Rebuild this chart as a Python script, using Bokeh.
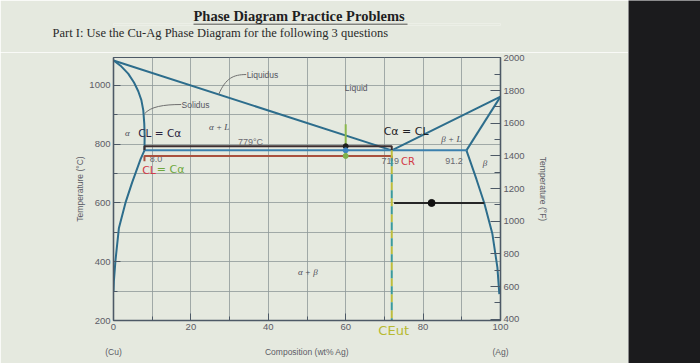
from bokeh.plotting import figure
from bokeh.models import Range1d, LinearAxis, SingleIntervalTicker, FixedTicker, Title
from bokeh.layouts import row, column
from bokeh.embed import file_html
from bokeh.resources import INLINE
from bokeh.core.properties import value

# ---------------- data (Cu-Ag phase diagram) ----------------
liquidus_x = [0, 71.9, 100]
liquidus_T = [1085, 779, 962]
alpha_solidus_x = [0, 2.0, 3.8, 5.3, 6.4, 7.2, 7.7, 7.95, 8.05, 8.0]
alpha_solidus_T = [1085, 1065, 1040, 1010, 980, 950, 915, 870, 830, 779]
alpha_solvus_x = [8.0, 7.0, 4.8, 3.1, 1.4, 0.5, 0.1, 0.0]
alpha_solvus_T = [779, 749, 669, 601, 515, 403, 335, 300]
beta_solidus_x = [91.2, 100]
beta_solidus_T = [779, 962]
beta_solvus_x = [91.2, 93.8, 95.8, 97.9, 99.2, 99.7]
beta_solvus_T = [779, 680, 600, 495, 380, 290]
eutectic_x = [8.0, 91.2]
eutectic_T = [779, 779]
eutectic_comp = 71.9

# hand-drawn annotations
upper_box_x = [8.0, 8.0, 71.9, 71.9]
upper_box_T = [779, 793, 793, 779]
lower_box_x = [8.0, 8.0, 71.9, 71.9]
lower_box_T = [742, 760, 760, 742]
alloy_comp = 60
alloy_T = [757, 868]
alloy_dot_T = [793, 779, 760]
alloy_dot_colors = ["#1e1e1e", "#3f86c0", "#7fb24a"]
ceut_T = [779, 200]
tie_x = [72.5, 95.8]
tie_T = [600, 600]
tie_dot_x = [82.2]
tie_dot_T = [600]

region_text = ["Liquid", "α + L", "α", "β + L", "β", "α + β"]
region_x = [62.7, 27.3, 3.6, 87.3, 96.0, 50.2]
region_T = [990, 858, 837, 817, 735, 366]

value_text = ["779°C", "8.0", "71.9", "91.2"]
value_x = [35.4, 11.0, 71.5, 88.0]
value_T = [807, 750, 742, 742]

comp_end_ticks = [0, 50, 100]
comp_end_labels = {0: "(Cu)", 50: "Composition (wt% Ag)", 100: "(Ag)"}
ceut_label_pos = [72.4]
ceut_label = {72.4: "CEut"}

title_text = "Phase Diagram Practice Problems"
subtitle_text = "Part I: Use the Cu-Ag Phase Diagram for the following 3 questions"
title_span = [193, 407]


def c2f(c):
    return c * 9.0 / 5.0 + 32.0


BG = "#e5e9df"
LINE = "#2d6d8c"
AX = "#4d5966"
TXT = "#5c5c66"
SANS = "Liberation Sans"
SERIF = "Liberation Serif"
HAND = "DejaVu Sans"
LEFT, RIGHT = 113, 128

# ---------------- title strip (frame is a thin band holding the underline) ----------------
tf = figure(width=628, height=52, x_range=Range1d(LEFT, 628 - RIGHT), y_range=Range1d(0, 1),
            x_axis_type=None, y_axis_type=None, toolbar_location=None,
            output_backend="svg", min_border_left=LEFT, min_border_right=RIGHT,
            min_border_top=23, min_border_bottom=27, background_fill_color=BG,
            border_fill_color=BG, outline_line_color=None,
            title=Title(text=title_text, align="left", offset=title_span[0] - LEFT, standoff=0,
                        text_font=SERIF, text_font_style="bold", text_font_size="14.5px",
                        text_color="#1f1f1f"))
tf.grid.visible = False
tf.segment(x0=[title_span[0]], y0=[0.75], x1=[title_span[1]], y1=[0.75],
           line_color="#1f1f1f", line_width=1.2)
tf.add_layout(Title(text=subtitle_text, align="left", offset=52 - LEFT, standoff=0,
                    vertical_align="top", text_font=SERIF, text_font_style="normal",
                    text_font_size="12.5px", text_color="#2a2a2a"), "below")

# ---------------- chart ----------------
p = figure(width=628, height=311, x_range=Range1d(0, 100), y_range=Range1d(200, 1095),
           toolbar_location=None, output_backend="svg",
           min_border_left=LEFT, min_border_right=RIGHT, min_border_top=5, min_border_bottom=43,
           background_fill_color=BG, border_fill_color=BG,
           outline_line_color=AX, outline_line_width=1.2)

p.extra_y_ranges = {"F": Range1d(c2f(200), c2f(1095))}


def style_axis(ax, tick_in, minor_in):
    ax.axis_line_color = AX
    ax.axis_line_width = 1.4
    ax.major_tick_line_color = AX
    ax.minor_tick_line_color = AX
    ax.major_tick_in = tick_in
    ax.major_tick_out = 0
    ax.minor_tick_in = minor_in
    ax.minor_tick_out = 0
    ax.major_label_standoff = 3
    ax.major_label_text_font = SANS
    ax.major_label_text_font_size = "9.5px"
    ax.major_label_text_color = TXT
    ax.axis_label_text_font = SANS
    ax.axis_label_text_font_size = "8.5px"
    ax.axis_label_text_font_style = "normal"
    ax.axis_label_text_color = TXT


def bare_axis(ax):
    ax.axis_line_color = None
    ax.major_tick_line_color = None
    ax.minor_tick_line_color = None
    ax.major_tick_in = 0
    ax.major_tick_out = 0
    ax.minor_tick_in = 0
    ax.minor_tick_out = 0


style_axis(p.xaxis[0], 7, 4)
style_axis(p.yaxis[0], 7, 4)
p.xaxis[0].ticker = SingleIntervalTicker(interval=20, num_minor_ticks=2)
p.yaxis[0].ticker = SingleIntervalTicker(interval=200, num_minor_ticks=2)
p.yaxis[0].axis_label = "Temperature (°C)"
p.yaxis[0].axis_label_standoff = 1

# handwritten C_Eut tucked between the composition numbers
cax = LinearAxis(ticker=FixedTicker(ticks=ceut_label_pos), major_label_overrides=ceut_label)
style_axis(cax, 0, 0)
bare_axis(cax)
cax.major_label_text_font = HAND
cax.major_label_text_font_size = "13px"
cax.major_label_text_color = "#b7b930"
cax.major_label_standoff = -10
p.add_layout(cax, "below")

# row under the composition axis: (Cu)  Composition (wt% Ag)  (Ag)
bax = LinearAxis(ticker=FixedTicker(ticks=comp_end_ticks), major_label_overrides=comp_end_labels)
style_axis(bax, 0, 0)
bare_axis(bax)
bax.major_label_text_font_size = "8.5px"
bax.major_label_standoff = 6
p.add_layout(bax, "below")

rax = LinearAxis(y_range_name="F", ticker=SingleIntervalTicker(interval=200, num_minor_ticks=2),
                 axis_label="Temperature (°F)")
style_axis(rax, 10, 6)
rax.axis_label_standoff = 10
p.add_layout(rax, "right")

p.xgrid.ticker = SingleIntervalTicker(interval=10)
p.ygrid.ticker = SingleIntervalTicker(interval=100)
p.grid.grid_line_color = "#8e9898"
p.grid.grid_line_width = 1
p.grid.grid_line_alpha = 0.8

# phase boundaries
p.line(liquidus_x, liquidus_T, line_color=LINE, line_width=2)
p.line(alpha_solidus_x, alpha_solidus_T, line_color=LINE, line_width=2)
p.line(alpha_solvus_x, alpha_solvus_T, line_color=LINE, line_width=2)
p.line(beta_solidus_x, beta_solidus_T, line_color=LINE, line_width=2)
p.line(beta_solvus_x, beta_solvus_T, line_color=LINE, line_width=2)
p.line(eutectic_x, eutectic_T, line_color="#3b80ae", line_width=2)

# leaders
p.bezier(x0=[27.2], y0=[970], x1=[34.3], y1=[1037], cx0=[29], cy0=[1025], cx1=[31], cy1=[1037],
         line_color="#6f6f6f", line_width=1)
p.bezier(x0=[8.0], y0=[903], x1=[17.5], y1=[935], cx0=[9.5], cy0=[928], cx1=[13], cy1=[935],
         line_color="#6f6f6f", line_width=1)
p.text(x=[34.4], y=[1037], text=["Liquidus"], text_font=value(SANS), text_font_size="8.5px",
       text_align="left", text_baseline="middle", text_color="#55555f")
p.text(x=[17.6], y=[935], text=["Solidus"], text_font=value(SANS), text_font_size="8.5px",
       text_align="left", text_baseline="middle", text_color="#55555f")

# region labels
p.text(x=region_x[:1], y=region_T[:1], text=region_text[:1], text_font=value(SANS),
       text_font_size="8.5px", text_align="center", text_baseline="middle", text_color="#55555f")
p.text(x=region_x[1:], y=region_T[1:], text=region_text[1:], text_font=value(SERIF),
       text_font_style="italic", text_font_size="9px", text_align="center",
       text_baseline="middle", text_color="#4a4a55")
p.text(x=value_x, y=value_T, text=value_text, text_font=value(SANS), text_font_size="9px",
       text_align="center", text_baseline="middle", text_color="#6a6a70")

# hand-drawn annotations
p.line(upper_box_x, upper_box_T, line_color="#3c2e30", line_width=2)
p.line(lower_box_x, lower_box_T, line_color="#a9503e", line_width=2)
p.line([alloy_comp, alloy_comp], alloy_T, line_color="#8ab84c", line_width=2)
p.scatter([alloy_comp] * 3, alloy_dot_T, size=5, color=alloy_dot_colors)
p.line([eutectic_comp, eutectic_comp], ceut_T, line_color="#bdbd3c", line_width=2, line_dash="8 8")
p.line([eutectic_comp, eutectic_comp], ceut_T, line_color="#3a9a9c", line_width=2, line_dash="8 8",
       line_dash_offset=8)
p.line(tie_x, tie_T, line_color="#262626", line_width=2)
p.scatter(tie_dot_x, tie_dot_T, size=7, color="#111111")

p.text(x=[6.4], y=[837], text=["CL = Cα"], text_font=value(HAND), text_font_size="10.5px",
       text_align="left", text_baseline="middle", text_color="#2a2340")
p.text(x=[7.4], y=[710], text=["CL"], text_font=value(HAND), text_font_size="11px",
       text_align="left", text_baseline="middle", text_color="#d23a46")
p.text(x=[11.2], y=[713], text=["= Cα"], text_font=value(HAND), text_font_size="11px",
       text_align="left", text_baseline="middle", text_color="#6fa83e")
p.text(x=[69.8], y=[844], text=["Cα = CL"], text_font=value(HAND), text_font_size="11px",
       text_align="left", text_baseline="middle", text_color="#1e1e26")
p.text(x=[74.3], y=[742], text=["CR"], text_font=value(HAND), text_font_size="10px",
       text_align="left", text_baseline="middle", text_color="#d23a46")

# ---------------- dark right strip ----------------
bf = figure(width=72, height=363, x_axis_type=None, y_axis_type=None, toolbar_location=None,
            output_backend="svg", min_border=0, background_fill_color="#1b1b1d",
            border_fill_color="#1b1b1d", outline_line_color=None)
bf.grid.visible = False

layout = row(column(tf, p), bf)
open("out.html", "w").write(file_html(layout, INLINE))
